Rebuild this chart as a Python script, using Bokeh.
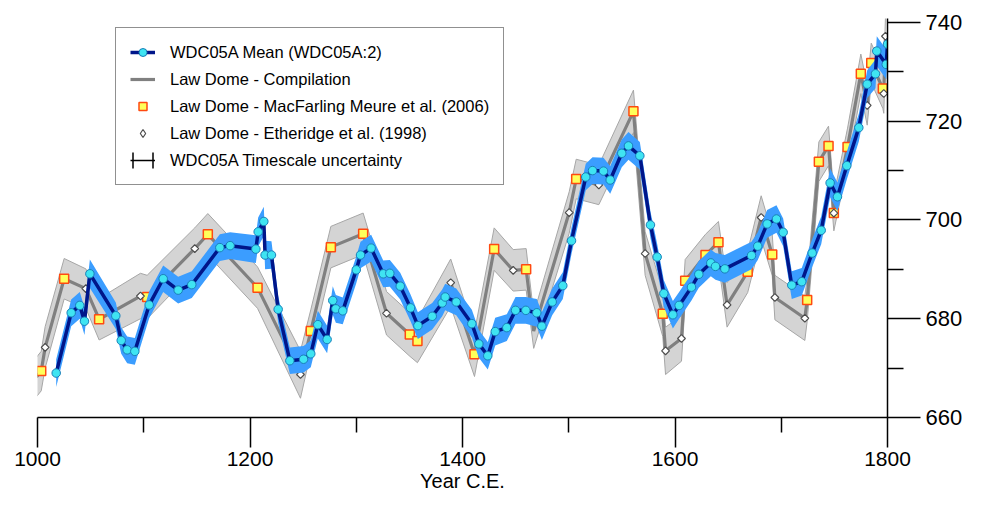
from math import pi
from bokeh.plotting import figure
from bokeh.models import (ColumnDataSource, Range1d, FixedTicker, Legend, LegendItem, Label)
from bokeh.embed import file_html
from bokeh.resources import INLINE

FONT = "Liberation Sans"

# ---------------- data ----------------
wdc_year = [1017.6, 1031.7, 1039.8, 1044.2, 1049.3, 1073.7, 1078.8, 1084.4, 1091.6, 1105.1,
            1118.3, 1132.4, 1145.2, 1171.6, 1181.3, 1205.5, 1207.7, 1213.0, 1214.2, 1220.2,
            1226.5, 1237.5, 1250.4, 1257.2, 1263.8, 1272.6, 1277.9, 1280.8, 1287.3, 1300.0,
            1304.0, 1314.0, 1325.4, 1331.6, 1341.4, 1351.1, 1358.0, 1371.5, 1380.9, 1383.7,
            1394.1, 1408.8, 1415.4, 1423.8, 1430.8, 1441.7, 1449.9, 1459.6, 1469.9, 1474.7,
            1484.4, 1494.4, 1502.6, 1516.0, 1522.4, 1532.7, 1539.0, 1549.9, 1556.2, 1566.9,
            1576.9, 1583.2, 1589.5, 1598.0, 1603.9, 1615.5, 1622.4, 1633.7, 1638.1, 1646.9,
            1672.0, 1677.9, 1686.7, 1695.5, 1701.8, 1709.9, 1719.3, 1729.1, 1737.6, 1746.0,
            1752.9, 1761.7, 1773.0, 1780.9, 1788.7, 1789.9, 1798.8, 1800.0]
wdc_ch4 = [669.0, 681.2, 682.7, 679.5, 689.1, 680.6, 675.6, 673.7, 673.4, 682.8,
           688.1, 685.8, 686.9, 694.4, 694.8, 694.1, 697.6, 699.7, 692.9, 692.9,
           681.9, 671.5, 671.8, 672.9, 678.8, 675.8, 683.7, 682.0, 681.6, 689.9,
           692.9, 694.3, 689.1, 689.2, 686.6, 682.2, 678.6, 680.5, 683.2, 684.4,
           683.4, 679.0, 674.9, 672.5, 677.4, 678.2, 681.7, 681.7, 681.2, 678.5,
           683.4, 686.7, 695.8, 708.7, 710.0, 709.9, 708.1, 713.5, 715.0, 713.0,
           699.0, 692.5, 685.1, 680.8, 682.7, 686.4, 689.0, 691.3, 690.6, 690.1,
           692.8, 694.7, 699.2, 700.2, 697.5, 686.8, 687.5, 693.3, 697.9, 707.5,
           704.7, 711.0, 718.7, 727.5, 729.6, 734.2, 731.5, 735.6]
wdc_unc = [2.8, 2.7, 2.7, 2.8, 2.9, 2.7, 2.7, 2.7, 2.7, 2.7,
           2.7, 2.7, 2.7, 2.7, 2.7, 2.8, 2.9, 3.0, 2.9, 2.8,
           2.7, 2.7, 2.7, 2.7, 2.8, 2.8, 2.9, 2.8, 2.7, 2.7,
           2.7, 2.7, 2.7, 2.7, 2.7, 2.7, 2.7, 2.7, 2.7, 2.7,
           2.7, 2.8, 2.8, 2.8, 2.8, 2.7, 2.7, 2.7, 2.8, 2.8,
           2.7, 2.7, 2.7, 2.7, 2.7, 2.7, 2.8, 2.8, 2.8, 2.8,
           2.7, 2.7, 2.7, 2.8, 2.7, 2.7, 2.7, 2.7, 2.7, 2.8,
           2.8, 2.8, 2.8, 2.8, 2.8, 2.8, 2.8, 2.8, 2.8, 2.9,
           2.9, 2.8, 2.8, 2.8, 2.9, 3.0, 3.0, 3.0]

mm_year = [1003.5, 1025.1, 1058.0, 1103.2, 1160.3, 1207.1, 1257.2, 1276.1, 1306.5, 1350.4,
           1357.6, 1411.3, 1429.8, 1459.9, 1507.0, 1560.9, 1588.5, 1609.6, 1628.7, 1640.9,
           1668.4, 1691.5, 1724.4, 1735.4, 1744.5, 1749.5, 1762.4, 1774.9, 1784.7, 1795.6]
mm_ch4 = [669.4, 688.1, 679.9, 684.4, 697.1, 686.3, 677.5, 694.5, 697.2, 676.8,
          675.5, 672.8, 694.1, 690.0, 708.3, 722.0, 681.0, 687.7, 692.9, 695.5,
          689.5, 693.0, 683.8, 711.8, 715.0, 701.4, 714.8, 729.6, 731.8, 726.6]

eth_year = [1007.2, 1045.5, 1096.9, 1148.0, 1247.5, 1328.5, 1388.9, 1447.7, 1500.4, 1528.3,
            1571.9, 1591.1, 1606.1, 1649.0, 1681.1, 1694.0, 1722.2, 1749.5, 1780.9, 1796.5,
            1798.1]
eth_ch4 = [674.2, 686.1, 684.6, 694.2, 668.7, 681.1, 687.3, 689.8, 701.5, 707.1,
           693.2, 673.5, 676.0, 682.8, 700.5, 684.3, 680.1, 701.4, 723.2, 725.6,
           737.2]

comp_year = [999.0, 1003.5, 1007.2, 1025.1, 1045.5, 1058.0, 1096.9, 1103.2, 1148.0, 1160.3,
             1207.1, 1247.5, 1257.2, 1276.1, 1306.5, 1328.5, 1350.4, 1357.6, 1388.9, 1411.3,
             1429.8, 1447.7, 1459.9, 1467.0, 1500.4, 1507.0, 1528.3, 1560.9, 1571.9, 1588.5,
             1591.1, 1606.1, 1609.6, 1628.7, 1640.9, 1649.0, 1668.4, 1681.1, 1691.5, 1694.0,
             1722.2, 1724.4, 1735.4, 1744.5, 1749.5, 1762.4, 1774.9, 1780.9, 1784.7, 1795.6,
             1796.5, 1798.1]
comp_ch4 = [668.2, 669.4, 674.2, 688.1, 686.1, 679.9, 684.6, 684.4, 694.2, 697.1,
            686.3, 668.7, 677.5, 694.5, 697.2, 681.1, 676.8, 675.5, 687.3, 672.8,
            694.1, 689.8, 690.0, 677.5, 701.5, 708.3, 707.1, 722.0, 693.2, 681.0,
            673.5, 676.0, 687.7, 692.9, 695.5, 682.8, 689.5, 700.5, 693.0, 684.3,
            680.1, 683.8, 711.8, 715.0, 701.4, 714.8, 729.6, 723.2, 731.8, 726.6,
            725.6, 737.2]
comp_unc = [4.0, 4.0, 4.2, 4.1, 4.0, 4.2, 4.6, 4.4, 4.2, 4.2,
            4.2, 4.8, 4.3, 4.2, 4.2, 4.4, 4.4, 4.4, 4.8, 4.5,
            4.3, 4.2, 4.2, 3.5, 4.2, 4.0, 4.0, 4.3, 4.4, 4.6,
            4.8, 4.6, 4.3, 4.2, 4.2, 4.5, 4.2, 4.4, 4.2, 4.5,
            4.5, 4.3, 4.0, 4.0, 3.6, 3.8, 4.0, 4.0, 4.0, 4.0,
            4.0, 4.0]

# WDC05A timescale uncertainty (years) at the first sample -- legend symbol only
ts_unc_years = [2.0]

x_ticks = [1000, 1200, 1400, 1600, 1800]
x_minor = [1100, 1300, 1500, 1700]
y_ticks = [660, 680, 700, 720, 740]
y_minor = [670, 690, 710, 730]

# ---------------- sources ----------------
s_wdc = ColumnDataSource(dict(x=wdc_year, y=wdc_ch4,
                              lo=[v - u for v, u in zip(wdc_ch4, wdc_unc)],
                              hi=[v + u for v, u in zip(wdc_ch4, wdc_unc)]))
s_comp = ColumnDataSource(dict(x=comp_year, y=comp_ch4,
                               lo=[v - u for v, u in zip(comp_ch4, comp_unc)],
                               hi=[v + u for v, u in zip(comp_ch4, comp_unc)]))
s_mm = ColumnDataSource(dict(x=mm_year, y=mm_ch4))
s_eth = ColumnDataSource(dict(x=eth_year, y=eth_ch4))
s_ts = ColumnDataSource(dict(l=[wdc_year[0] - ts_unc_years[0]], r=[wdc_year[0] + ts_unc_years[0]],
                             t=[wdc_ch4[0] + 1], b=[wdc_ch4[0] - 1]))
s_ts_line = ColumnDataSource(dict(x=[wdc_year[0] - ts_unc_years[0], wdc_year[0] + ts_unc_years[0]],
                                  y=[wdc_ch4[0], wdc_ch4[0]]))

# ---------------- figure ----------------
p = figure(width=986, height=494, output_backend="svg", toolbar_location=None,
           x_range=Range1d(1000, 1800), y_range=Range1d(660, 740.8),
           x_axis_location="below", y_axis_location="right",
           min_border_left=37, min_border_right=99, min_border_top=18, min_border_bottom=76)
p.outline_line_color = None
p.grid.visible = False
p.background_fill_color = "white"
p.border_fill_color = "white"

# Law Dome compilation band + line
p.varea(x="x", y1="lo", y2="hi", source=s_comp, fill_color="#d4d4d4")
p.line(x="x", y="hi", source=s_comp, line_color="#a6a6a6", line_width=1)
p.line(x="x", y="lo", source=s_comp, line_color="#a6a6a6", line_width=1)
r_comp = p.line(x="x", y="y", source=s_comp, line_color="#808080", line_width=3.2)

r_mm = p.scatter(x="x", y="y", source=s_mm, marker="square", size=9,
                 fill_color="#ffff5a", line_color="#ff4a10", line_width=1.5)
r_eth = p.scatter(x="x", y="y", source=s_eth, marker="square", angle=pi / 4, size=5.5,
                  fill_color="white", line_color="#4d4d4d", line_width=1.2)
# legend symbol for Etheridge (diamond), not drawn in the plot
r_eth_leg = p.scatter(x="x", y="y", source=s_eth, marker="diamond", size=9,
                      fill_color="white", line_color="#4d4d4d", line_width=1.2, visible=False)

# WDC05A band + mean
p.varea(x="x", y1="lo", y2="hi", source=s_wdc, fill_color="#3b9dff")
r_wdc_line = p.line(x="x", y="y", source=s_wdc, line_color="#00168a", line_width=3.5)
r_wdc_pts = p.scatter(x="x", y="y", source=s_wdc, marker="circle", size=8.5,
                      fill_color="#3fe4f2", line_color="#1a7fb8", line_width=1)

# timescale uncertainty symbol (legend only)
r_ts_box = p.quad(left="l", right="r", top="t", bottom="b", source=s_ts,
                  fill_color=None, line_color="black", line_width=1.5,
                  line_dash="0 20 16 20 16", visible=False)
r_ts_line = p.line(x="x", y="y", source=s_ts_line, line_color="black", line_width=1.5,
                   visible=False)

# ---------------- axes ----------------
xa = p.xaxis[0]
xa.ticker = FixedTicker(ticks=x_ticks, minor_ticks=x_minor)
xa.axis_line_color = "black"
xa.axis_line_width = 1.5
xa.major_tick_line_color = "black"
xa.major_tick_line_width = 1.5
xa.minor_tick_line_color = "black"
xa.minor_tick_line_width = 1.5
xa.major_tick_in = 0
xa.major_tick_out = 30
xa.minor_tick_in = 0
xa.minor_tick_out = 15
xa.major_label_text_font = FONT
xa.major_label_text_font_size = "21px"
xa.major_label_text_color = "black"
xa.major_label_standoff = 4
xa.axis_label = "Year C.E."
xa.axis_label_text_font = FONT
xa.axis_label_text_font_size = "20px"
xa.axis_label_text_font_style = "normal"
xa.axis_label_text_color = "black"
xa.axis_label_standoff = 1

ya = p.yaxis[0]
ya.ticker = FixedTicker(ticks=y_ticks, minor_ticks=y_minor)
ya.axis_line_color = "black"
ya.axis_line_width = 1.5
ya.major_tick_line_color = "black"
ya.major_tick_line_width = 1.5
ya.minor_tick_line_color = "black"
ya.minor_tick_line_width = 1.5
ya.major_tick_in = 0
ya.major_tick_out = 33
ya.minor_tick_in = 0
ya.minor_tick_out = 16
ya.major_label_text_font = FONT
ya.major_label_text_font_size = "22px"
ya.major_label_text_color = "black"
ya.major_label_standoff = 5

p.add_layout(Label(x=1883.5, y=700, x_units="data", y_units="data", text="CH\u2084 (ppb)",
                   angle=pi / 2, text_align="center", text_baseline="middle",
                   text_font=FONT, text_font_size="20px", text_color="black"))

# ---------------- legend ----------------
legend = Legend(items=[
    LegendItem(label="WDC05A Mean (WDC05A:2)", renderers=[r_wdc_line, r_wdc_pts]),
    LegendItem(label="Law Dome - Compilation", renderers=[r_comp]),
    LegendItem(label="Law Dome - MacFarling Meure et al. (2006)", renderers=[r_mm]),
    LegendItem(label="Law Dome - Etheridge et al. (1998)", renderers=[r_eth_leg]),
    LegendItem(label="WDC05A Timescale uncertainty", renderers=[r_ts_box, r_ts_line]),
], location=(78, 232), padding=14, spacing=7, glyph_width=25, glyph_height=20,
    label_height=20, label_standoff=15, label_text_font=FONT, label_text_font_size="16.5px",
    label_text_color="black", border_line_color="#222222", border_line_width=1.3,
    background_fill_color="white", background_fill_alpha=1.0, margin=0)
p.add_layout(legend)

open("out.html", "w").write(file_html(p, INLINE))
